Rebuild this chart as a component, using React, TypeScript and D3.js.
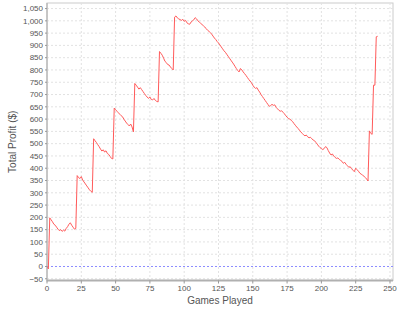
import React from "react";
import * as d3 from "d3";

const games: number[] = [];
const profits: number[] = [
  0, -10, 198, 190, 182, 172, 168, 160, 152, 146, 150, 143, 148, 144, 155, 162, 172, 178, 168, 160, 152, 155,
  370, 362, 358, 366, 352, 344, 336, 328, 320, 312, 306, 302,
  520, 512, 505, 496, 488, 478, 470, 475, 466, 471, 460, 456, 448, 440, 438,
  645, 638, 632, 626, 620, 614, 610, 600, 592, 584, 578, 572, 580, 568, 548,
  745, 738, 730, 722, 728, 720, 712, 704, 696, 690, 684, 690, 680, 678, 684, 676, 672, 670,
  875, 868, 860, 848, 835, 830, 822, 820, 812, 806, 800,
  1015, 1020, 1012, 1008, 1005, 1002, 1006, 998, 1002, 992, 988, 986, 995, 1000, 1004, 1013, 1008, 1000, 995, 990,
  985, 980, 975, 968, 962, 958, 952, 946, 938, 930, 924, 916, 910, 902, 894, 886, 878, 872,
  864, 856, 848, 840, 832, 824, 815, 806, 798, 792, 806, 800, 792, 785, 778, 770, 762, 755, 748, 738,
  730, 725, 728, 718, 710, 700, 692, 684, 676, 668, 660, 652, 655, 660, 656, 658, 648, 642, 636, 632,
  634, 628, 622, 614, 608, 602, 600, 595, 590, 582, 575, 568, 562, 555, 548, 542, 536, 532, 535, 528,
  524, 526, 520, 515, 512, 505, 498, 490, 484, 480, 476, 480, 488, 484, 472, 462, 454, 458, 450, 444,
  440, 442, 436, 432, 428, 420, 424, 416, 410, 404, 406, 398, 392, 386, 400, 394, 388, 380, 376, 372,
  368, 362, 356, 348, 552, 542, 538, 738, 738, 935, 937,
];
for (let i = 0; i < profits.length; i++) games.push(i);

const xTicks = [0, 25, 50, 75, 100, 125, 150, 175, 200, 225, 250];
const yTicks = d3.range(-50, 1051, 50);

const W = 400;
const H = 311;
const left = 47;
const right = 393;
const top = 3;
const bottom = 280.5;

export default function App() {
  const x = d3.scaleLinear().domain([0, 252.2]).range([left, right]);
  const y = d3.scaleLinear().domain([-57, 1072.6]).range([bottom, top]);
  const pts: [number, number][] = games.map((g, i) => [g, profits[i]]);
  const line = d3
    .line<[number, number]>()
    .x((d) => x(d[0]))
    .y((d) => y(d[1]));
  const fmt = d3.format(",");
  const font = "'Liberation Sans', Arial, sans-serif";
  return (
    <svg
      width={W}
      height={H}
      style={{ position: "absolute", left: 0, top: 0, background: "#fff" }}
      fontFamily={font}
    >
      <rect x={left} y={top} width={right - left} height={bottom - top} fill="#fff" stroke="#cccccc" strokeWidth={1} />
      {xTicks.map((t) => (
        <line key={"gx" + t} x1={x(t)} x2={x(t)} y1={top} y2={bottom} stroke="#e2e2e2" strokeWidth={1} strokeDasharray="2,2" />
      ))}
      {yTicks.map((t) => (
        <line key={"gy" + t} x1={left} x2={right} y1={y(t)} y2={y(t)} stroke="#e2e2e2" strokeWidth={1} strokeDasharray="2,2" />
      ))}
      <line x1={left} x2={right} y1={y(0)} y2={y(0)} stroke="#8c8cff" strokeWidth={1} strokeDasharray="2,2" />
      <path d={line(pts) || ""} fill="none" stroke="#ff5a5a" strokeWidth={1} />
      <line x1={left} x2={left} y1={top} y2={bottom + 1} stroke="#a8a8a8" strokeWidth={1} />
      <line x1={left} x2={right} y1={bottom} y2={bottom} stroke="#b0b0b0" strokeWidth={2} />
      {yTicks.map((t) => (
        <g key={"ty" + t}>
          <line x1={left - 2} x2={left} y1={y(t)} y2={y(t)} stroke="#999" />
          <text x={left - 4} y={y(t)} dy="0.35em" textAnchor="end" fontSize={8} fill="#555">
            {fmt(t)}
          </text>
        </g>
      ))}
      {xTicks.map((t) => (
        <g key={"tx" + t}>
          <line x1={x(t)} x2={x(t)} y1={bottom} y2={bottom + 3} stroke="#999" />
          <text x={x(t)} y={291} textAnchor="middle" fontSize={8} fill="#555">
            {t}
          </text>
        </g>
      ))}
      <text x={(left + right) / 2} y={304} textAnchor="middle" fontSize={10} fill="#555">
        Games Played
      </text>
      <text
        transform={`translate(16, ${(top + bottom) / 2}) rotate(-90)`}
        textAnchor="middle"
        fontSize={10}
        fill="#555"
      >
        Total Profit ($)
      </text>
    </svg>
  );
}
